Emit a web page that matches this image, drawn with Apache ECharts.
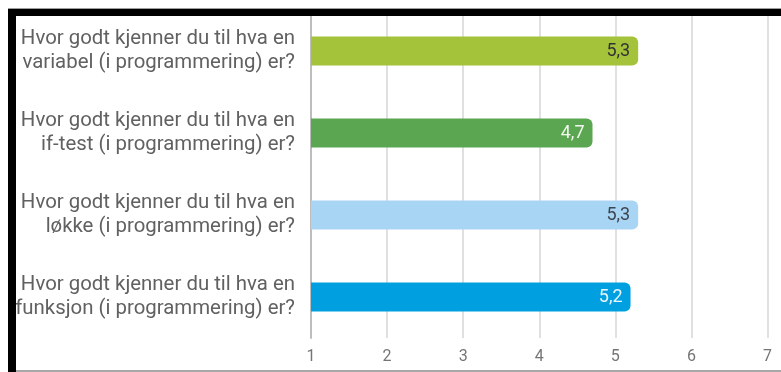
<!DOCTYPE html>
<html>
<head>
<meta charset="utf-8">
<script src="https://cdn.jsdelivr.net/npm/echarts@6/dist/echarts.min.js"></script>
<style>
  html, body { margin: 0; padding: 0; background: #fff; }
  #chart { width: 781px; height: 372px; }
</style>
</head>
<body>
<div id="chart"></div>
<script>
// Questions (two lines each), mean scores and bar colours
const questions = [
  'Hvor godt kjenner du til hva en\nvariabel (i programmering) er?',
  'Hvor godt kjenner du til hva en\nif-test (i programmering) er?',
  'Hvor godt kjenner du til hva en\nløkke (i programmering) er?',
  'Hvor godt kjenner du til hva en\nfunksjon (i programmering) er?'
];
const scores = [5.3, 4.7, 5.3, 5.2];
const barColors = ['#a4c23a', '#5ba650', '#a9d5f5', '#00a0e0'];
const labelColors = ['#333333', '#f2f7f0', '#3c4650', '#eaf6fd'];
const scaleTicks = [1, 2, 3, 4, 5, 6, 7];

const chart = echarts.init(document.getElementById('chart'));

chart.setOption({
  animation: false,
  grid: { left: 311, right: 13.5, top: 10, bottom: 34, containLabel: false },
  xAxis: {
    type: 'value',
    min: scaleTicks[0],
    max: scaleTicks[scaleTicks.length - 1],
    interval: 1,
    axisLine: { show: false },
    axisTick: { show: false },
    axisLabel: {
      color: '#757575', fontFamily: 'Roboto', fontSize: 16, margin: 11
    },
    splitLine: { lineStyle: { color: '#e0e0e0', width: 2 } }
  },
  yAxis: {
    type: 'category',
    inverse: true,
    data: questions,
    axisLine: { show: true, lineStyle: { color: '#bdbdbd', width: 2 } },
    axisTick: { show: false },
    axisLabel: {
      color: '#616161', fontFamily: 'Roboto', fontSize: 20.4,
      lineHeight: 24, margin: 16, align: 'right'
    }
  },
  series: [{
    type: 'bar',
    barWidth: 29,
    data: scores.map((v, i) => ({
      value: v,
      itemStyle: { color: barColors[i], borderRadius: [0, 6, 6, 0] },
      label: { color: labelColors[i] }
    })),
    label: {
      show: true,
      position: 'insideRight',
      distance: 8,
      fontFamily: 'Roboto',
      fontSize: 18,
      formatter: p => String(p.value).replace('.', ',')
    }
  }],
  graphic: [
    { type: 'rect', z: 100, shape: { x: 8, y: 8, width: 773, height: 1 }, style: { fill: '#9e9e9e' } },
    { type: 'rect', z: 100, shape: { x: 8, y: 9, width: 773, height: 7 }, style: { fill: '#000' } },
    { type: 'rect', z: 100, shape: { x: 8, y: 9, width: 8, height: 363 }, style: { fill: '#000' } },
    { type: 'rect', z: 100, shape: { x: 16, y: 370, width: 765, height: 2 }, style: { fill: '#a8a8a8' } }
  ]
});
</script>
</body>
</html>
